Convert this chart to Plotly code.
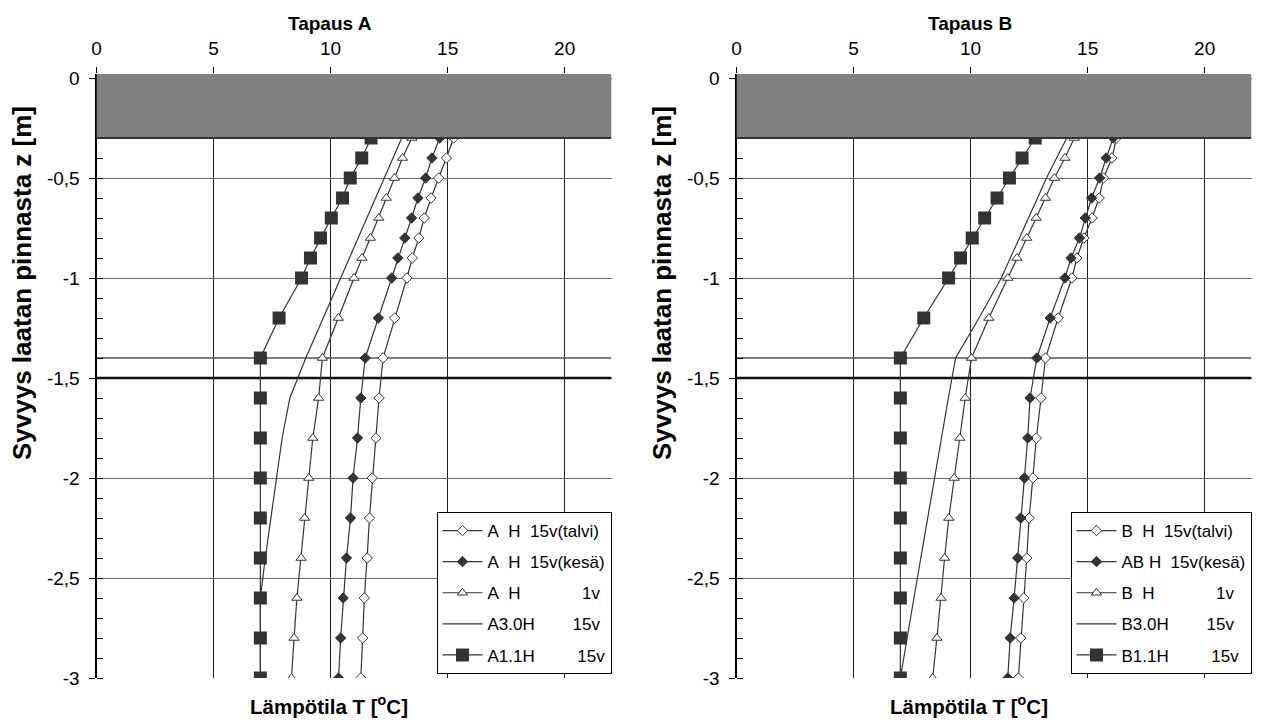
import plotly.graph_objects as go

# ---------------- data ----------------
depth = [-0.3, -0.4, -0.5, -0.6, -0.7, -0.8, -0.9, -1.0, -1.2, -1.4,
         -1.6, -1.8, -2.0, -2.2, -2.4, -2.6, -2.8, -3.0]

A_talvi = [15.26, 14.95, 14.62, 14.29, 14.00, 13.77, 13.49, 13.26, 12.74, 12.24,
           12.07, 11.94, 11.78, 11.66, 11.56, 11.44, 11.37, 11.29]
A_kesa = [14.66, 14.33, 14.06, 13.73, 13.46, 13.17, 12.87, 12.61, 12.04, 11.48,
          11.29, 11.15, 10.96, 10.85, 10.68, 10.54, 10.43, 10.34]
A_1v = [13.47, 13.07, 12.73, 12.38, 12.06, 11.70, 11.34, 11.00, 10.33, 9.65,
        9.49, 9.24, 9.07, 8.89, 8.74, 8.56, 8.44, 8.33]
A_30H = [13.04, 12.67, 12.29, 11.92, 11.55, 11.17, 10.80, 10.43, 9.68, 8.94,
         8.26, 7.93, 7.69, 7.44, 7.21, 7.00, 7.00, 7.00]
A_11H = [11.73, 11.33, 10.84, 10.51, 10.03, 9.57, 9.14, 8.76, 7.80, 7.00,
         7.00, 7.00, 7.00, 7.00, 7.00, 7.00, 7.00, 7.00]

B_talvi = [16.23, 16.04, 15.68, 15.49, 15.19, 14.84, 14.54, 14.33, 13.74, 13.20,
           13.01, 12.81, 12.66, 12.50, 12.40, 12.27, 12.14, 12.04]
B_kesa = [16.09, 15.79, 15.51, 15.17, 14.90, 14.65, 14.29, 14.03, 13.40, 12.83,
          12.54, 12.44, 12.30, 12.14, 12.01, 11.86, 11.69, 11.59]
B_1v = [14.43, 14.03, 13.58, 13.20, 12.80, 12.40, 11.98, 11.59, 10.78, 10.04,
        9.77, 9.54, 9.30, 9.07, 8.89, 8.74, 8.56, 8.38]
B_30H = [14.11, 13.69, 13.24, 12.86, 12.47, 12.08, 11.71, 11.31, 10.36, 9.36,
         9.05, 8.75, 8.46, 8.17, 7.88, 7.58, 7.29, 7.00]
B_11H = [12.76, 12.20, 11.66, 11.13, 10.60, 10.07, 9.57, 9.06, 8.00, 7.00,
         7.00, 7.00, 7.00, 7.00, 7.00, 7.00, 7.00, 7.00]

NB = "\u00a0"
names_A = ["A" + NB * 2 + "H" + NB * 2 + "15v(talvi)",
           "A" + NB * 2 + "H" + NB * 2 + "15v(kesä)",
           "A" + NB * 2 + "H" + NB * 13 + "1v",
           "A3.0H" + NB * 8 + "15v",
           "A1.1H" + NB * 9 + "15v"]
names_B = ["B" + NB * 2 + "H" + NB * 2 + "15v(talvi)",
           "AB" + NB + "H" + NB * 2 + "15v(kesä)",
           "B" + NB * 2 + "H" + NB * 13 + "1v",
           "B3.0H" + NB * 8 + "15v",
           "B1.1H" + NB * 9 + "15v"]

x_ticks = [0, 5, 10, 15, 20]
y_ticks = [0, -0.5, -1, -1.5, -2, -2.5, -3]
y_ticktext = ["0", "-0,5", "-1", "-1,5", "-2", "-2,5", "-3"]
panel_titles = ["Tapaus A", "Tapaus B"]
x_title = "Lämpötila T [<sup>o</sup>C]"
y_title = "Syvyys laatan pinnasta z [m]"

# ---------------- styling ----------------
FONT = "Arial, 'Liberation Sans', sans-serif"
DARK = "#333333"
W, H = 1285, 723

def py(p):  # pixel y -> paper
    return (H - p) / H

def px(p):
    return p / W

doms_x = [[px(96.5), px(611.5)], [px(736.5), px(1251.5)]]
dom_y = [py(678), py(74)]

fig = go.Figure()

styles = [
    dict(mode="lines+markers", marker=dict(symbol="diamond", size=8, color="white",
                                           line=dict(color=DARK, width=1))),
    dict(mode="lines+markers", marker=dict(symbol="diamond", size=8, color=DARK,
                                           line=dict(color=DARK, width=1))),
    dict(mode="lines+markers", marker=dict(symbol="triangle-up", size=9, color="white",
                                           line=dict(color=DARK, width=1))),
    dict(mode="lines"),
    dict(mode="lines+markers", marker=dict(symbol="square", size=13, color=DARK,
                                           line=dict(width=0))),
]

series = [
    (A_talvi, A_kesa, A_1v, A_30H, A_11H),
    (B_talvi, B_kesa, B_1v, B_30H, B_11H),
]
names = [names_A, names_B]

for p in range(2):
    xa = "x" if p == 0 else "x2"
    ya = "y" if p == 0 else "y2"
    lg = "legend" if p == 0 else "legend2"
    for i, vals in enumerate(series[p]):
        fig.add_trace(go.Scatter(
            x=vals, y=depth, name=names[p][i], xaxis=xa, yaxis=ya,
            legend=lg, legendgroup=f"{p}-{i}",
            line=dict(color=DARK, width=1.2), **styles[i]))

common_x = dict(range=[0, 22], tickvals=x_ticks, side="top", ticks="outside",
                ticklen=6, tickcolor="black", showline=False, showgrid=True,
                gridcolor="#222222", gridwidth=1, zeroline=False, automargin=False,
                tickfont=dict(size=19, color="black", family=FONT),
                ticklabelstandoff=4)
common_y = dict(range=[-3, 0.02], tickvals=y_ticks, ticktext=y_ticktext,
                ticks="outside", ticklen=6, tickcolor="black", showline=True,
                linecolor="black", linewidth=2, showgrid=True, gridcolor="#666666",
                gridwidth=1, zeroline=False, automargin=False,
                tickfont=dict(size=19, color="black", family=FONT),
                ticklabelstandoff=5,
                minor=dict(dtick=0.1, tick0=0, ticks="inside", ticklen=6,
                           tickcolor="black", showgrid=False))
bottom_x = dict(range=[0, 22], tickvals=x_ticks, side="bottom", ticks="inside",
                ticklen=5, tickcolor="black", showticklabels=False, showline=True,
                linecolor="black", linewidth=2, showgrid=False, zeroline=False,
                automargin=False)

fig.update_layout(
    template="none",
    xaxis=dict(domain=doms_x[0], anchor="y", **common_x),
    xaxis2=dict(domain=doms_x[1], anchor="y2", **common_x),
    yaxis=dict(domain=dom_y, anchor="x", **common_y),
    yaxis2=dict(domain=dom_y, anchor="x2", **common_y),
    xaxis3=dict(overlaying="x", anchor="y", **bottom_x),
    xaxis4=dict(overlaying="x2", anchor="y2", **bottom_x),
)

shapes = []
for p in range(2):
    xr = "x" if p == 0 else "x2"
    yr = "y" if p == 0 else "y2"
    shapes.append(dict(type="rect", xref=xr, yref=yr, x0=0, x1=22, y0=-0.3, y1=0.02,
                       fillcolor="#808080", line=dict(width=0), layer="above"))
    shapes.append(dict(type="line", xref=xr, yref=yr, x0=0, x1=22, y0=-0.3, y1=-0.3,
                       line=dict(color="#333333", width=2), layer="above"))
    shapes.append(dict(type="line", xref=xr, yref=yr, x0=0, x1=22, y0=-1.4, y1=-1.4,
                       line=dict(color="#555555", width=1.5), layer="between"))
    shapes.append(dict(type="line", xref=xr, yref=yr, x0=0, x1=22, y0=-1.5, y1=-1.5,
                       line=dict(color="#111111", width=2.5), layer="between"))

annotations = []
title_x = [px(330), px(970)]
ytitle_x = [px(22), px(662)]
for p in range(2):
    annotations.append(dict(text=f"<b>{panel_titles[p]}</b>", x=title_x[p], y=py(24),
                            xref="paper", yref="paper", showarrow=False,
                            xanchor="center", yanchor="middle",
                            font=dict(size=19, family=FONT, color="black")))
    annotations.append(dict(text=f"<b>{x_title}</b>", x=title_x[p] - px(1), y=py(705),
                            xref="paper", yref="paper", showarrow=False,
                            xanchor="center", yanchor="middle",
                            font=dict(size=20.5, family=FONT, color="black")))
    annotations.append(dict(text=f"<b>{y_title}</b>", x=ytitle_x[p], y=py(283),
                            xref="paper", yref="paper", showarrow=False, textangle=-90,
                            xanchor="center", yanchor="middle",
                            font=dict(size=26, family=FONT, color="black")))

legend_common = dict(bgcolor="white", bordercolor="black", borderwidth=1,
                     font=dict(size=17, family=FONT, color="black"),
                     yanchor="top", xanchor="right", traceorder="grouped",
                     tracegroupgap=6, itemwidth=40)

fig.update_layout(
    width=W, height=H, margin=dict(l=0, r=0, t=0, b=0, autoexpand=False),
    paper_bgcolor="white", plot_bgcolor="white",
    font=dict(family=FONT, color="black"),
    showlegend=True,
    legend=dict(x=px(611.5), y=py(512), **legend_common),
    legend2=dict(x=px(1251.5), y=py(512), **legend_common),
    shapes=shapes, annotations=annotations,
)

fig.write_html("out.html")
